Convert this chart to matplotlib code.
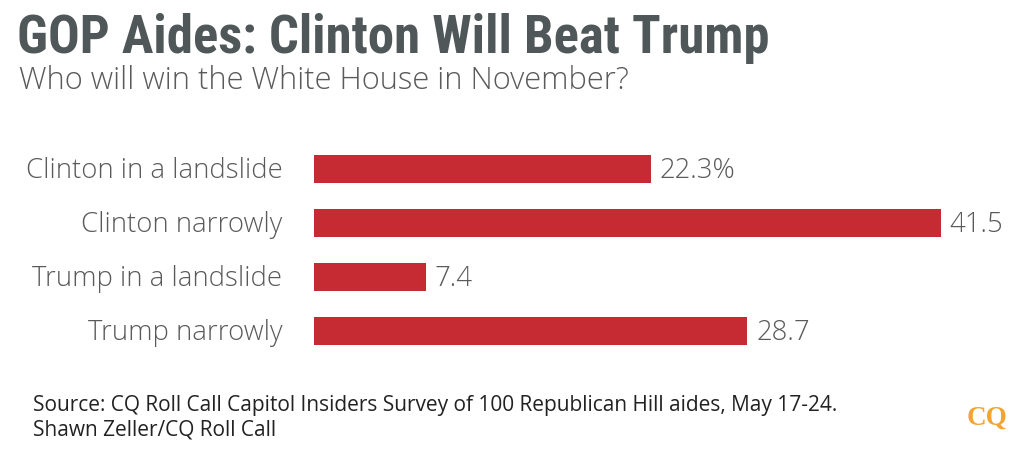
import matplotlib
matplotlib.use("Agg")
from matplotlib import pyplot as plt

categories = ["Clinton in a landslide", "Clinton narrowly", "Trump in a landslide", "Trump narrowly"]
values = [22.3, 41.5, 7.4, 28.7]
value_labels = ["22.3%", "41.5", "7.4", "28.7"]

title = "GOP Aides: Clinton Will Beat Trump"
subtitle = "Who will win the White House in November?"
source1 = "Source: CQ Roll Call Capitol Insiders Survey of 100 Republican Hill aides, May 17-24."
source2 = "Shawn Zeller/CQ Roll Call"

narrow = ["Roboto Condensed", "Liberation Sans Narrow", "DejaVu Sans"]
wide = ["Open Sans", "Lato", "DejaVu Sans"]
plt.rcParams['font.family'] = wide

W, H = 1024, 453
fig = plt.figure(figsize=(W / 100, H / 100), dpi=100)
fig.patch.set_facecolor("white")

# axes placed in pixel terms: bars start at x=314, 54 px per row
ax = fig.add_axes([314 / W, (H - 358) / H, 700 / W, 216 / H])
y = list(range(len(categories)))
ax.barh(y, values, height=0.53, color="#c62b33")
ax.set_xlim(0, 700 / 15.1)
ax.set_ylim(3.5, -0.5)
ax.axis("off")

for i in y:
    ax.text(values[i] + 0.6, i + 0.04, value_labels[i], va="center", ha="left",
            fontsize=19.8, fontweight="light", color="#5a5a5a")
    ax.text(-2.1, i + 0.04, categories[i], va="center", ha="right",
            fontsize=19.8, fontweight="light", color="#5a5a5a")

fig.text(17 / W, 1 - 38 / H, title, fontsize=38, fontweight="bold",
         color="#4f5759", va="center", ha="left", family=narrow)
fig.text(19 / W, 1 - 81 / H, subtitle, fontsize=22.2, fontweight="light",
         color="#5a5a5a", va="center", ha="left")
fig.text(33 / W, 1 - 406 / H, source1, fontsize=15, color="#222222",
         va="center", ha="left")
fig.text(33 / W, 1 - 430 / H, source2, fontsize=15, color="#222222",
         va="center", ha="left")
fig.text(987 / W, 1 - 418 / H, "CQ", fontsize=19.5, fontweight="bold",
         color="#f2a531", family=["Liberation Serif", "DejaVu Serif"],
         va="center", ha="center")

fig.savefig("out.png", dpi=100, facecolor="white")
